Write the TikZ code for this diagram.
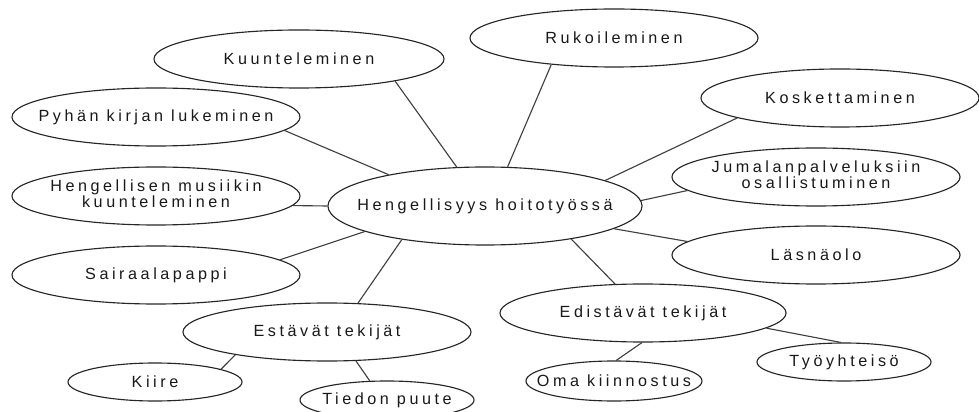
\documentclass[tikz,border=0pt]{standalone}
\usepackage{fontspec}
\newfontfamily\dfont[LetterSpace=22]{Liberation Sans}
\usetikzlibrary{shapes.geometric}
\newcommand{\zt}[1]{\makebox[0pt][c]{#1}}
\newcommand{\ztt}[2]{\makebox[0pt][c]{\begin{tabular}{@{}c@{}}#1\\#2\end{tabular}}}
\tikzset{
  ell/.style={draw=black!85, line width=0.8pt, ellipse, inner sep=0pt,
    font=\dfont\fontsize{11.5}{11.3}\selectfont, text=black!90},
  bigell/.style={ell, minimum width=7.2cm, minimum height=1.45cm},
  smallell/.style={ell, minimum width=4.35cm, minimum height=0.95cm},
  conn/.style={draw=black!75, line width=0.8pt}
}
\begin{document}
\begin{tikzpicture}[x=0.025cm,y=-0.025cm]
\clip (0,0) rectangle (979,412);
\fill[white] (0,0) rectangle (979,412);
\node[ell, minimum width=7.85cm, minimum height=1.95cm] (c) at (485,206) {\zt{Hengellisyys hoitotyössä}};
\node[bigell, minimum width=7.25cm] (kuun) at (299,59) {\zt{Kuunteleminen}};
\node[bigell] (ruk) at (614,38) {\zt{Rukoileminen}};
\node[bigell] (pyh) at (156,117) {\zt{Pyhän kirjan lukeminen}};
\node[bigell] (hmus) at (156,196) {\ztt{Hengellisen musiikin}{kuunteleminen}};
\node[bigell, minimum width=6.95cm] (kosk) at (840,98) {\zt{Koskettaminen}};
\node[bigell] (jum) at (816,177) {\ztt{Jumalanpalveluksiin}{osallistuminen}};
\node[bigell] (sair) at (156,275) {\zt{Sairaalapappi}};
\node[bigell] (lasn) at (816,255) {\zt{Läsnäolo}};
\node[bigell] (est) at (327,332) {\zt{Estävät tekijät}};
\node[bigell, minimum width=7.15cm] (edi) at (643,313) {\zt{Edistävät tekijät}};
\node[smallell] (kiire) at (155,382) {\zt{Kiire}};
\node[smallell] (tied) at (387,400) {\zt{Tiedon puute}};
\node[smallell, minimum width=4.4cm, minimum height=1cm] (oma) at (614,381) {\zt{Oma kiinnostus}};
\node[smallell] (tyo) at (844,362) {\zt{Työyhteisö}};
\draw[conn] (c.126) -- (kuun.-13.5);
\draw[conn] (c.162) -- (pyh.-6.7);
\draw[conn] (c.180) -- (hmus.-4);
\draw[conn] (c.192.7) -- (sair.7.1);
\draw[conn] (c.202) -- (est.43);
\draw[conn] (c.339) -- (edi.134);
\draw[conn] (c.350) -- (lasn.174);
\draw[conn] (c.2.5) -- (jum.186);
\draw[conn] (c.12.5) -- (kosk.191);
\draw[conn] (c.60.6) -- (ruk.203);
\draw[conn] (edi.268) -- (oma.84);
\draw[conn] (edi.-7.4) -- (tyo.99);
\draw[conn] (est.194) -- (kiire.11);
\draw[conn] (est.315) -- (tied.132);
\end{tikzpicture}
\end{document}
